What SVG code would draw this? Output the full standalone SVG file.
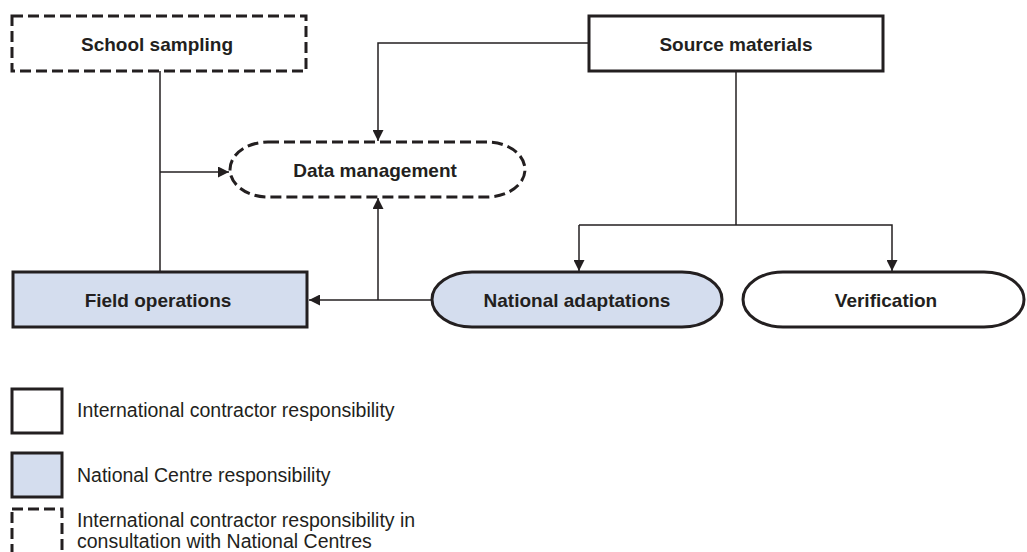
<svg xmlns="http://www.w3.org/2000/svg" width="1027" height="552" viewBox="0 0 1027 552">
<style>
.box{fill:#ffffff;stroke:#231f20;stroke-width:3}
.blue{fill:#d4ddee}
.dash{stroke-dasharray:11 5}
.lbl{font-family:"Liberation Sans",Arial,sans-serif;font-weight:bold;font-size:19px;fill:#231f20;text-anchor:middle}
.leg{font-family:"Liberation Sans",Arial,sans-serif;font-size:19.5px;fill:#231f20}
.con{fill:none;stroke:#231f20;stroke-width:1.5}
</style>
<defs>
<marker id="ah" markerUnits="userSpaceOnUse" markerWidth="11" markerHeight="11" refX="11" refY="5.5" orient="auto">
<path d="M0,0 L11,5.5 L0,11 z" fill="#231f20"/>
</marker>
</defs>
<rect width="1027" height="552" fill="#ffffff"/>
<g id="connectors">
<line class="con" x1="160" y1="71" x2="160" y2="272"/>
<line class="con" x1="160" y1="172" x2="229" y2="172" marker-end="url(#ah)"/>
<polyline class="con" points="589,43 378,43 378,141" marker-end="url(#ah)"/>
<line class="con" x1="432" y1="300" x2="309" y2="300" marker-end="url(#ah)"/>
<line class="con" x1="378" y1="300" x2="378" y2="198" marker-end="url(#ah)"/>
<line class="con" x1="736" y1="71" x2="736" y2="225"/>
<polyline class="con" points="579,225 579,271" marker-end="url(#ah)"/>
<polyline class="con" points="579,225 892,225 892,271" marker-end="url(#ah)"/>
</g>
<g id="school-sampling">
<rect class="box dash" x="12" y="16" width="294" height="55"/>
<text class="lbl" x="157" y="50.5">School sampling</text>
</g>
<g id="source-materials">
<rect class="box" x="589" y="16" width="294" height="55"/>
<text class="lbl" x="736" y="50.5">Source materials</text>
</g>
<g id="data-management">
<rect class="box dash" x="230" y="142" width="295" height="55" rx="38" ry="27.5"/>
<text class="lbl" x="375" y="176.5">Data management</text>
</g>
<g id="field-operations">
<rect class="box blue" x="13" y="272" width="294" height="55"/>
<text class="lbl" x="158" y="306.5">Field operations</text>
</g>
<g id="national-adaptations">
<rect class="box blue" x="432" y="272" width="290" height="55" rx="40" ry="27.5"/>
<text class="lbl" x="577" y="306.5">National adaptations</text>
</g>
<g id="verification">
<rect class="box" x="743" y="272" width="281" height="55" rx="40" ry="27.5"/>
<text class="lbl" x="886" y="306.5">Verification</text>
</g>
<g id="legend">
<rect class="box" x="12" y="389" width="50" height="44"/>
<text class="leg" x="77" y="416.5">International contractor responsibility</text>
<rect class="box blue" x="12" y="453" width="50" height="44"/>
<text class="leg" x="77" y="481.5">National Centre responsibility</text>
<rect class="box dash" x="12" y="509" width="50" height="45"/>
<text class="leg" x="77" y="526.5">International contractor responsibility in</text>
<text class="leg" x="77" y="548">consultation with National Centres</text>
</g>
</svg>
